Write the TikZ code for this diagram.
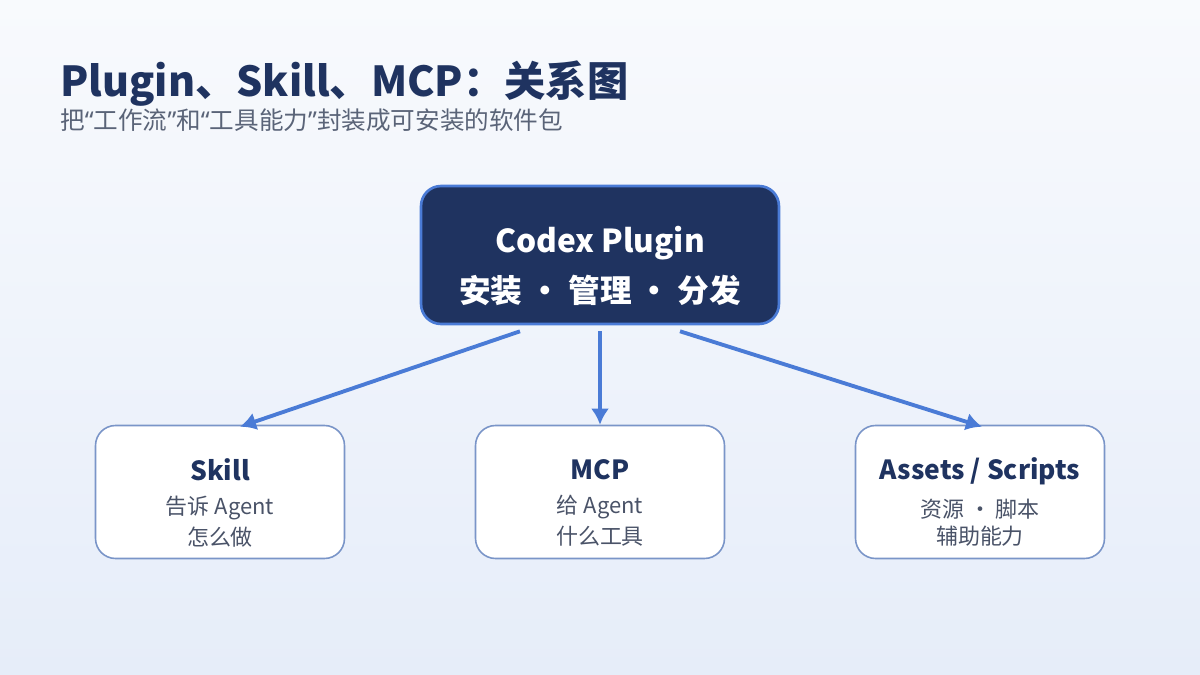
\documentclass[tikz,border=0pt]{standalone}
\usepackage{fontspec}
\setmainfont{Noto Sans CJK SC}
\newfontfamily\latin{Noto Sans}
\usetikzlibrary{positioning,arrows.meta,calc}
\definecolor{navy}{HTML}{1F3360}
\definecolor{linkblue}{HTML}{4A7BD6}
\definecolor{edge}{HTML}{7A95C8}
\definecolor{subgray}{HTML}{5A6478}
\definecolor{bodygray}{HTML}{4A5368}
\definecolor{bgtop}{HTML}{F8FAFD}
\definecolor{bgbot}{HTML}{E6EDF9}
\tikzset{
  hub/.style  = {draw=linkblue, line width=1.5pt, fill=navy, rounded corners=0.4cm, minimum width=7.16cm, minimum height=2.76cm},
  part/.style = {draw=edge, line width=0.9pt, fill=white, rounded corners=0.4cm, minimum width=4.98cm, minimum height=2.66cm},
  words/.style = {align=center, inner sep=0pt},
  link/.style = {draw=linkblue, line width=2.2pt, -{Latex[length=3.2mm,width=3.6mm]}}
}
\newcommand{\openq}{{\latin “}}
\newcommand{\closeq}{{\latin ”}}
\newcommand{\parttext}[3]{\fontsize{15}{18}\selectfont\bfseries\color{navy}#1\\[7pt]
  \fontsize{12.5}{15}\selectfont\mdseries\color{bodygray}#2\\[3pt]
  \fontsize{12.5}{15}\selectfont\mdseries\color{bodygray}#3}
\begin{document}
\begin{tikzpicture}[x=0.02cm, y=-0.02cm]
    % background
    \shade[top color=bgtop, bottom color=bgbot] (0,0) rectangle (1200,675);
    \useasboundingbox (0,0) rectangle (1200,675);

    % heading
    \node[anchor=base west, text=navy, inner sep=0pt, font=\fontsize{23.5}{26}\selectfont\bfseries] (title) at (60,97) {Plugin、Skill、MCP：关系图};
    \node[anchor=base west, text=subgray, inner sep=0pt, font=\fontsize{14}{16}\selectfont] (subtitle) at (60,130) {把\openq 工作流\closeq 和\openq 工具能力\closeq 封装成可安装的软件包};

    % hub and parts
    \node[hub] (plugin) at (600,255) {};
    \node[words, text=white, font=\fontsize{18}{18}\selectfont\bfseries] (pluginText) at (600,266) {Codex Plugin\\[8pt]安装 · 管理 · 分发};
    \node[part] (skill)  at (220,492) {};
    \node[part] (mcp)    at (600,492) {};
    \node[part] (assets) at (980,492) {};
    \node[words] (skillText)  at (220,503) {\parttext{Skill}{告诉 Agent}{怎么做}};
    \node[words] (mcpText)    at (600,503) {\parttext{MCP}{给 Agent}{什么工具}};
    \node[words] (assetsText) at (980,502) {\parttext{Assets / Scripts}{资源 · 脚本}{辅助能力}};

    % links
    \coordinate (outL) at ($(plugin.south)+(-80,6)$);
    \coordinate (outM) at ($(plugin.south)+(0,6)$);
    \coordinate (outR) at ($(plugin.south)+(80,6)$);
    \draw[link] (outL) -- ($(skill.north)+(20,2)$);
    \draw[link] (outM) -- (mcp.north);
    \draw[link] (outR) -- ($(assets.north)+(2,2)$);
\end{tikzpicture}
\end{document}
